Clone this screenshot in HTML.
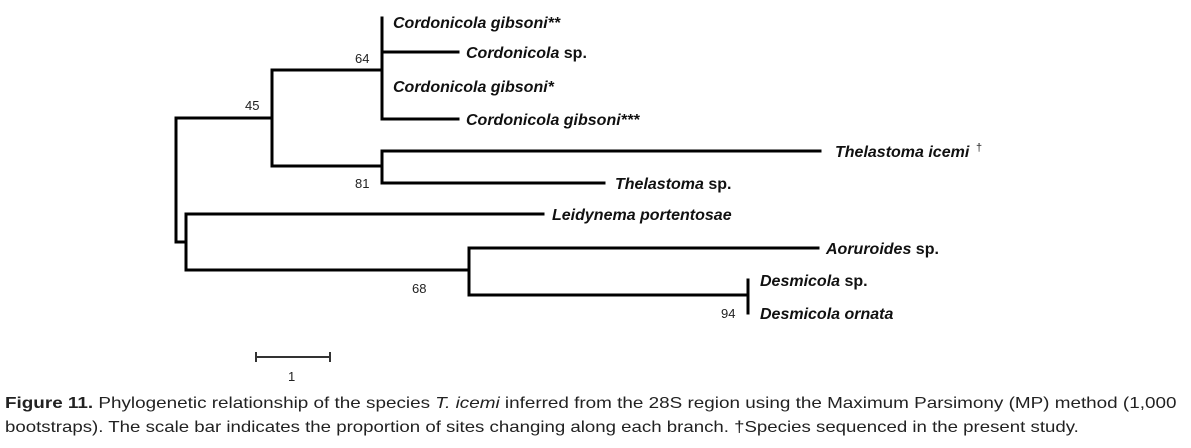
<!DOCTYPE html>
<html><head><meta charset="utf-8"><style>
body{margin:0;background:#fff;width:1191px;height:448px;overflow:hidden;font-family:"Liberation Sans",sans-serif}
svg{position:absolute;left:0;top:0}
.t{font:italic bold 16px "Liberation Sans",sans-serif;fill:#111}
.n{font:13px "Liberation Sans",sans-serif;fill:#222}
.cap{position:absolute;left:5px;font-size:16px;color:#222;white-space:nowrap;transform-origin:0 0}
</style></head><body>
<svg width="1191" height="448">
<g stroke="#000" stroke-width="3" fill="none" stroke-linecap="square">
<path d="M176 118V242M176 118H272M176 242H186"/>
<path d="M272 70V166M272 70H382M272 166H382"/>
<path d="M382 18V119M382 52H458M382 119H458"/>
<path d="M382 151V183M382 151H820M382 183H604"/>
<path d="M186 214V270M186 214H543M186 270H469"/>
<path d="M469 248V295M469 248H818M469 295H748"/>
<path d="M748 280V313"/>
</g>
<g stroke="#333" stroke-width="2"><path d="M256 357H330M256 352V362M330 352V362"/></g>
<text class="t" x="393" y="28">Cordonicola gibsoni**</text>
<text class="t" x="466" y="58">Cordonicola <tspan font-style="normal">sp.</tspan></text>
<text class="t" x="393" y="92">Cordonicola gibsoni*</text>
<text class="t" x="466" y="125">Cordonicola gibsoni***</text>
<text class="t" x="835" y="157">Thelastoma icemi</text>
<text x="976" y="151" font-size="11" font-family="Liberation Sans" fill="#222">†</text>
<text class="t" x="615" y="189">Thelastoma <tspan font-style="normal">sp.</tspan></text>
<text class="t" x="552" y="220">Leidynema portentosae</text>
<text class="t" x="826" y="254">Aoruroides <tspan font-style="normal">sp.</tspan></text>
<text class="t" x="760" y="286">Desmicola <tspan font-style="normal">sp.</tspan></text>
<text class="t" x="760" y="319">Desmicola ornata</text>
<text class="n" x="355" y="63">64</text>
<text class="n" x="245" y="110">45</text>
<text class="n" x="355" y="188">81</text>
<text class="n" x="412" y="293">68</text>
<text class="n" x="721" y="318">94</text>
<text class="n" x="288" y="381">1</text>
</svg>
<div class="cap" style="top:395px;transform:scaleX(1.18)"><b>Figure 11.</b> Phylogenetic relationship of the species <i>T. icemi</i> inferred from the 28S region using the Maximum Parsimony (MP) method (1,000</div>
<div class="cap" style="top:419px;transform:scaleX(1.165)">bootstraps). The scale bar indicates the proportion of sites changing along each branch. †Species sequenced in the present study.</div>
</body></html>
